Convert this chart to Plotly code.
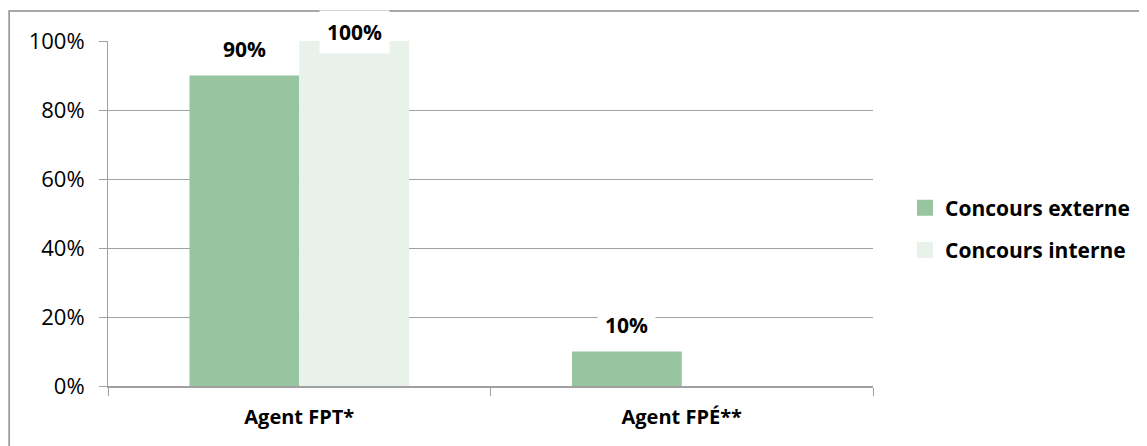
import plotly.graph_objects as go

categories = ["Agent FPT*", "Agent FPÉ**"]
series_names = ["Concours externe", "Concours interne"]
externe = [90, 10]
interne = [100, 0]
colors = ["#97C5A0", "#E8F2EA"]
y_ticks = [0, 20, 40, 60, 80, 100]
y_tick_labels = ["0%", "20%", "40%", "60%", "80%", "100%"]

FONT = "Open Sans, Calibri, Carlito, sans-serif"

fig = go.Figure()
for i, (name, vals) in enumerate(zip(series_names, [externe, interne])):
    fig.add_trace(go.Bar(
        x=categories, y=vals, name=name,
        marker=dict(color=colors[i], line=dict(width=0)),
        showlegend=False,
    ))
for i, name in enumerate(series_names):
    fig.add_trace(go.Scatter(
        x=[None], y=[None], mode="markers", name=f"<b>{name}</b>",
        marker=dict(symbol="square", size=17, color=colors[i]),
        legendgroup=name, showlegend=True,
    ))

# layout geometry (page has an 8px body margin)
OFF = 8
W, H = 1147 - OFF, 446 - OFF
L, T = 108 - OFF, 41 - OFF
R = 1147 - 874
B = 446 - 386
plot_w = W - L - R
plot_h = H - T - B
bargap = 0.426
cat_w = plot_w / len(categories)
bar_w = cat_w * (1 - bargap) / 2
px_per_unit = plot_h / 100

annotations = []
for i, vals in enumerate([externe, interne]):
    shift = (i - 0.5) * bar_w
    for c, v in zip(categories, vals):
        if v == 0:
            continue
        ys = min(27, (100 - v) * px_per_unit + 9)
        annotations.append(dict(
            x=c, y=v, xref="x", yref="y", text=f"<b>{v}%</b>", showarrow=False,
            xshift=shift, yshift=ys, bgcolor="white", borderpad=7,
            font=dict(family=FONT, size=21, color="black"),
        ))

fig.update_layout(
    width=W, height=H,
    margin=dict(l=L, r=R, t=T, b=B),
    paper_bgcolor="white", plot_bgcolor="white",
    barmode="group", bargap=bargap, bargroupgap=0,
    font=dict(family=FONT, size=19, color="black"),
    annotations=annotations,
    legend=dict(x=(905 - 108) / plot_w, y=1 - (229 - 41) / plot_h, xanchor="left", yanchor="middle",
                font=dict(family=FONT, size=21, color="black"),
                traceorder="grouped", tracegroupgap=12, itemwidth=30),
    shapes=[dict(type="rect", xref="paper", yref="paper",
                 x0=(1 - L) / plot_w, x1=1.6, y0=-0.6, y1=1 + (41 - 11) / plot_h,
                 line=dict(color="#8C8C8C", width=1.5), layer="below")],
)
fig.update_yaxes(range=[0, 100], tickvals=y_ticks, ticktext=y_tick_labels,
                 showgrid=True, gridcolor="#A0A0A0", gridwidth=1,
                 showline=True, linecolor="#A0A0A0", linewidth=1,
                 ticks="outside", ticklen=8, tickcolor="#A0A0A0",
                 zeroline=False, tickfont=dict(size=22), ticklabelstandoff=10)
fig.update_xaxes(showline=True, linecolor="#A0A0A0", linewidth=1.5,
                 ticks="outside", ticklen=8, tickcolor="#A0A0A0", tickson="boundaries",
                 tickfont=dict(size=20), ticktext=[f"<b>{c}</b>" for c in categories],
                 tickvals=categories, ticklabelstandoff=12)

fig.write_html("out.html")
